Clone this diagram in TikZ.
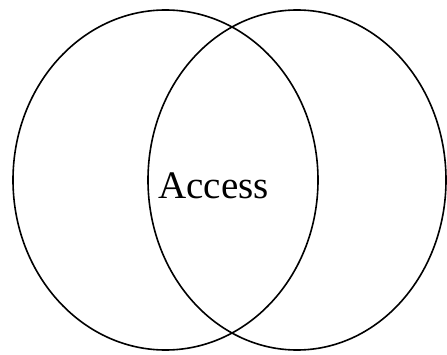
\documentclass[tikz,border=0pt]{standalone}
\usepackage{fontspec}
\setmainfont{Liberation Serif}
\usetikzlibrary{shapes.geometric,positioning}
\tikzset{setc/.style={draw,ellipse,line width=1.6pt,inner sep=0pt,minimum height=340pt},
 lab/.style={font=\fontsize{39}{45}\selectfont,inner sep=0pt}}
\begin{document}
\begin{tikzpicture}[x=1pt,y=1pt]
\useasboundingbox(0,0)rectangle(447,354);
\node[setc,minimum width=305pt](l)at(165.5,174){};
\node[setc,minimum width=298pt](r)at(297,174){};
\node[lab,anchor=base](acc)at(213.5,156){Access};
\end{tikzpicture}
\end{document}
